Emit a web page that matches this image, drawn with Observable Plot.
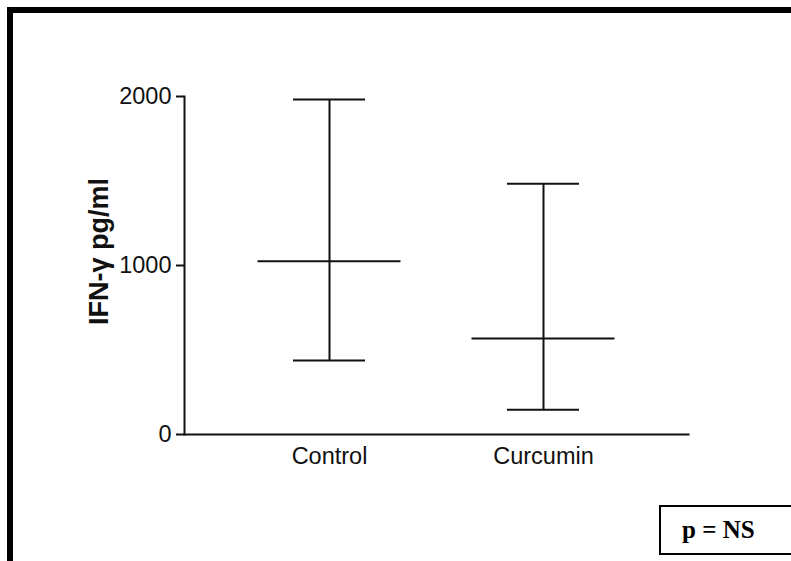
<!DOCTYPE html>
<html><head><meta charset="utf-8">
<script src="https://cdn.jsdelivr.net/npm/d3@7"></script>
<script src="https://cdn.jsdelivr.net/npm/@observablehq/plot@0.6"></script>
<style>
html,body{margin:0;padding:0;background:#fff;}
#wrap{position:relative;width:791px;height:561px;overflow:hidden;background:#fff;}
#chart{position:absolute;left:0;top:0;}
#border{position:absolute;left:7px;top:7px;width:820px;height:600px;border-left:6px solid #000;border-top:6px solid #000;}
#pbox{position:absolute;left:659px;top:505px;width:200px;height:46px;border:2px solid #000;font-family:"Liberation Serif","Times New Roman",serif;font-weight:bold;font-size:25px;line-height:46px;padding-left:21px;box-sizing:content-box;color:#000;}
</style></head>
<body>
<div id="wrap">
<div id="border"></div>
<div id="chart"></div>
<div id="pbox">p = NS</div>
</div>
<script>
const groups = ["Control", "Curcumin"];
const medians = [1025, 568];
const lows = [438, 146];
const highs = [1982, 1483];
const yTicks = [0, 1000, 2000];
const yLabel = "IFN-γ pg/ml";

const data = groups.map((g, i) => ({group: g, median: medians[i], low: lows[i], high: highs[i]}));
const ink = "#111";

const chart = Plot.plot({
  width: 791,
  height: 561,
  marginLeft: 184,
  marginRight: 103,
  marginTop: 96,
  marginBottom: 127,
  style: {fontFamily: "Arial, 'Liberation Sans', sans-serif", fontSize: "23.5px", color: ink, background: "transparent"},
  x: {type: "band", domain: groups, paddingInner: 0.665, paddingOuter: 0.507},
  y: {domain: [0, 2000]},
  marks: [
    Plot.frame({anchor: "left", stroke: ink, strokeWidth: 2}),
    Plot.frame({anchor: "bottom", stroke: ink, strokeWidth: 2}),
    Plot.axisY({ticks: yTicks, tickFormat: "d", tickSize: 8, tickPadding: 5, label: null, strokeWidth: 2, fontSize: 23.5, stroke: ink}),
    Plot.axisX({tickSize: 0, tickPadding: 13, label: null, fontSize: 23.5}),
    Plot.ruleX(data, {x: "group", y1: "low", y2: "high", stroke: ink, strokeWidth: 2}),
    Plot.tickY(data, {x: "group", y: "low", stroke: ink, strokeWidth: 2}),
    Plot.tickY(data, {x: "group", y: "high", stroke: ink, strokeWidth: 2}),
    Plot.tickY(data, {x: "group", y: "median", stroke: ink, strokeWidth: 2, insetLeft: -35.5, insetRight: -35.5}),
    Plot.text([yLabel], {frameAnchor: "left", rotate: -90, dx: -85, dy: -14, fontWeight: "bold", fontSize: 27, textAnchor: "middle", lineAnchor: "middle", fill: ink})
  ]
});
document.getElementById("chart").appendChild(chart);
</script>
</body></html>
